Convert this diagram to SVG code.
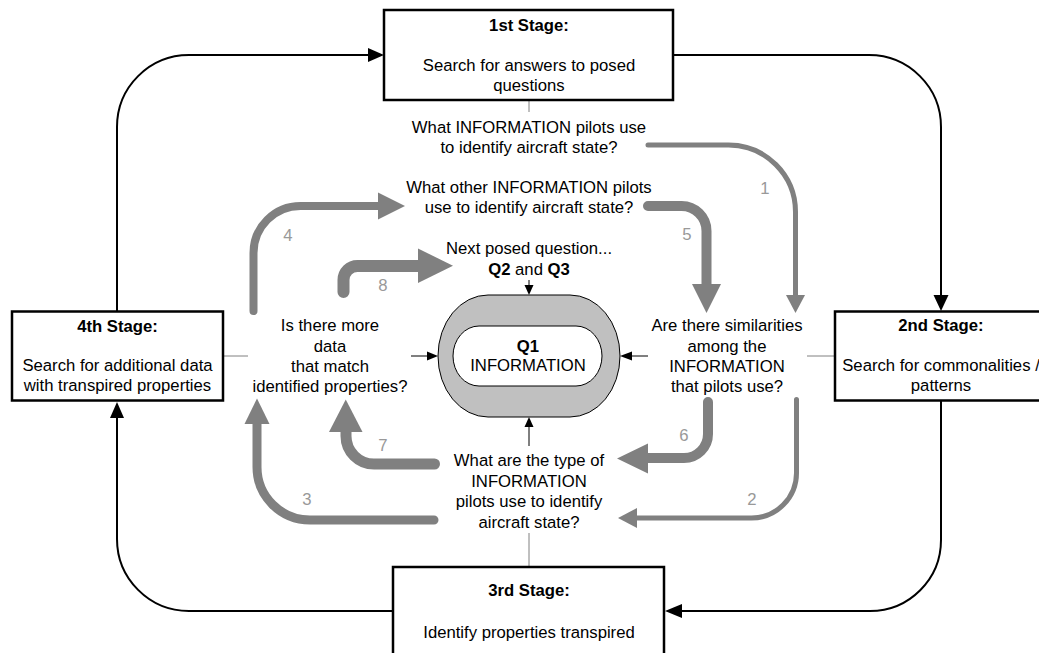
<svg xmlns="http://www.w3.org/2000/svg" width="1039" height="653" viewBox="0 0 1039 653">
<style>
text{font-family:"Liberation Sans",Arial,sans-serif;font-size:16.7px;fill:#000;text-anchor:middle}
.b{font-weight:bold}
.n{fill:#999}
.box{fill:#fff;stroke:#000;stroke-width:2.5}
.conn{fill:none;stroke:#000;stroke-width:2}
.thin{fill:none;stroke:#808080;stroke-width:1}
.sm{fill:none;stroke:#000;stroke-width:1}
.g{fill:none;stroke:#808080;stroke-linecap:round}
.gh{fill:#808080}
.bh{fill:#000}
</style>
<rect width="1039" height="653" fill="#fff"/>
<g id="connectors">
<path class="conn" d="M117,311 V127 A72,72 0 0 1 189,55 H369"/>
<polygon class="bh" points="368,48 368,62 384,55"/>
<path class="conn" d="M673,55 H869 A72,72 0 0 1 941,127 V296"/>
<polygon class="bh" points="933.5,295 948.5,295 941,311"/>
<path class="conn" d="M941,401 V540 A71,71 0 0 1 870,611 H681"/>
<polygon class="bh" points="682,604 682,618 665,611"/>
<path class="conn" d="M393,611 H189 A72,72 0 0 1 117,539 V417"/>
<polygon class="bh" points="110,418 124,418 117,402"/>
<path class="thin" d="M223,356 H248 M835,356 H807 M529,100 V112 M529,567 V533"/>
<path class="sm" d="M529,280 V286 M411,356 H428 M648,356 H631 M529,446 V427"/>
<polygon class="bh" points="524.5,285 533.5,285 529,295"/>
<polygon class="bh" points="427,351.5 427,360.5 438,356"/>
<polygon class="bh" points="632,351.5 632,360.5 620,356"/>
<polygon class="bh" points="524.5,427 533.5,427 529,417"/>
<path class="g" stroke-width="5" d="M648,145 H728 A67,67 0 0 1 795.5,212.5 V296"/>
<polygon class="gh" points="786,295 805,295 795.5,313"/>
<path class="g" stroke-width="10" d="M648,206 H681 A25,25 0 0 1 706.5,231 V285"/>
<polygon class="gh" points="692,284 721,284 706.5,313"/>
<path class="g" stroke-width="8" d="M253.5,311 V253 A47,47 0 0 1 300.5,206 H379"/>
<polygon class="gh" points="378,192.5 378,219.5 405,206"/>
<path class="g" stroke-width="12" d="M343.5,292 V280 A14,14 0 0 1 357.5,266 H419"/>
<polygon class="gh" points="418,248.5 418,283 453,265.7"/>
<path class="g" stroke-width="10" d="M708,402 V434 A24,24 0 0 1 684,458 H647"/>
<polygon class="gh" points="648,443.5 648,473.5 617,458.5"/>
<path class="g" stroke-width="5" d="M796.5,399.5 V473 A45,45 0 0 1 751.5,518 H636"/>
<polygon class="gh" points="637,508 637,528 618,518"/>
<path class="g" stroke-width="11" d="M434.5,464 H374 A28,28 0 0 1 346,436 V431"/>
<polygon class="gh" points="329,432 362.5,432 345.75,399.5"/>
<path class="g" stroke-width="9" d="M434,520 H310 A53,53 0 0 1 257,467 V423"/>
<polygon class="gh" points="244.5,424 269.5,424 257,398.5"/>
</g>
<g id="labels">
<text class="n" x="765" y="194">1</text>
<text class="n" x="752" y="505">2</text>
<text class="n" x="307" y="505">3</text>
<text class="n" x="288" y="241">4</text>
<text class="n" x="687" y="240">5</text>
<text class="n" x="684" y="441">6</text>
<text class="n" x="383" y="451">7</text>
<text class="n" x="383" y="291">8</text>
</g>
<g id="stage1">
<rect class="box" x="384" y="10" width="289" height="90"/>
<text class="b" x="529" y="31">1st Stage:</text>
<text x="529" y="71">Search for answers to posed</text>
<text x="529" y="91">questions</text>
</g>
<g id="stage2">
<rect class="box" x="835" y="311.5" width="214" height="89"/>
<text class="b" x="941" y="331">2nd Stage:</text>
<text x="941" y="371">Search for commonalities /</text>
<text x="941" y="391">patterns</text>
</g>
<g id="stage3">
<rect class="box" x="393" y="567" width="271" height="95"/>
<text class="b" x="529" y="596">3rd Stage:</text>
<text x="529" y="638">Identify properties transpired</text>
</g>
<g id="stage4">
<rect class="box" x="12" y="311.5" width="211" height="89"/>
<text class="b" x="117.5" y="332">4th Stage:</text>
<text x="117.5" y="371">Search for additional data</text>
<text x="117.5" y="391">with transpired properties</text>
</g>
<g id="q1">
<rect x="438" y="295" width="182" height="122" rx="50" ry="61" fill="#c0c0c0" stroke="#000" stroke-width="1"/>
<rect x="453" y="326" width="149" height="60" rx="26" ry="30" fill="#fff" stroke="#000" stroke-width="1"/>
<text class="b" x="528" y="352">Q1</text>
<text x="528" y="371">INFORMATION</text>
</g>
<g id="question1">
<text x="529" y="133">What INFORMATION pilots use</text>
<text x="529" y="153">to identify aircraft state?</text>
</g>
<g id="question2">
<text x="529" y="193">What other INFORMATION pilots</text>
<text x="529" y="213">use to identify aircraft state?</text>
</g>
<g id="next">
<text x="529" y="254">Next posed question...</text>
<text x="529" y="275"><tspan class="b">Q2</tspan> and <tspan class="b">Q3</tspan></text>
</g>
<g id="more">
<text x="330" y="331">Is there more</text>
<text x="330" y="351.5">data</text>
<text x="330" y="371.5">that match</text>
<text x="330" y="392">identified properties?</text>
</g>
<g id="similar">
<text x="727" y="331">Are there similarities</text>
<text x="727" y="351.5">among the</text>
<text x="727" y="371.5">INFORMATION</text>
<text x="727" y="392">that pilots use?</text>
</g>
<g id="type">
<text x="529" y="466">What are the type of</text>
<text x="529" y="486.5">INFORMATION</text>
<text x="529" y="507">pilots use to identify</text>
<text x="529" y="527.5">aircraft state?</text>
</g>
</svg>
